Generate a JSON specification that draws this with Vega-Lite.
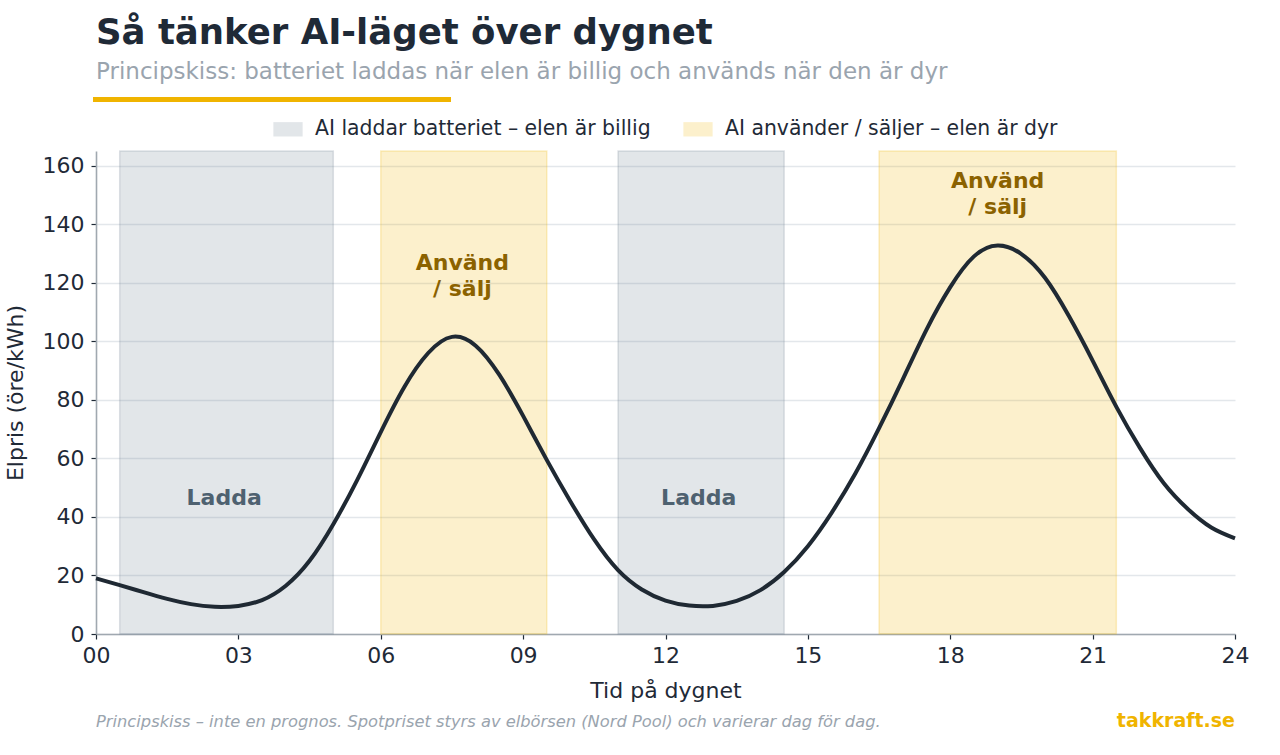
{
  "$schema": "https://vega.github.io/schema/vega-lite/v6.json",
  "width": 1139,
  "height": 483,
  "padding": {"left": 4, "top": 16, "right": 40, "bottom": 10},
  "background": "white",
  "title": {
    "text": "Så tänker AI-läget över dygnet",
    "subtitle": "Principskiss: batteriet laddas när elen är billig och används när den är dyr",
    "anchor": "start",
    "frame": "group",
    "font": "DejaVu Sans",
    "fontSize": 35.5,
    "fontWeight": "bold",
    "color": "#1f2a37",
    "subtitleFont": "DejaVu Sans",
    "subtitleFontSize": 23,
    "subtitleColor": "#9aa4ae",
    "subtitlePadding": 9,
    "offset": 13
  },
  "config": {
    "font": "DejaVu Sans",
    "view": {"stroke": null},
    "axis": {
      "labelFont": "DejaVu Sans",
      "titleFont": "DejaVu Sans",
      "labelFontSize": 22,
      "titleFontSize": 22,
      "labelColor": "#1f2a37",
      "titleColor": "#1f2a37",
      "titleFontWeight": "normal",
      "labelFlush": false,
      "domainColor": "#a0a8b0",
      "domainWidth": 1.6,
      "tickColor": "#1f2a37",
      "tickSize": 5,
      "tickWidth": 1.2,
      "gridColor": "#e3e7eb",
      "gridWidth": 1.6
    },
    "legend": {
      "labelFont": "DejaVu Sans",
      "labelFontSize": 20.4,
      "labelColor": "#1f2a37",
      "labelLimit": 0
    }
  },
  "datasets": {
    "band": [
      {"start": 0.5, "end": 5.0, "typ": "AI laddar batteriet – elen är billig"},
      {"start": 6.0, "end": 9.5, "typ": "AI använder / säljer – elen är dyr"},
      {"start": 11.0, "end": 14.5, "typ": "AI laddar batteriet – elen är billig"},
      {"start": 16.5, "end": 21.5, "typ": "AI använder / säljer – elen är dyr"}
    ],
    "pris": [
      {"tid": 0, "pris": 19.0}, {"tid": 0.5, "pris": 16.7}, {"tid": 1, "pris": 14.3},
      {"tid": 1.5, "pris": 12.0}, {"tid": 2, "pris": 10.2}, {"tid": 2.5, "pris": 9.3},
      {"tid": 3, "pris": 9.6}, {"tid": 3.5, "pris": 11.6}, {"tid": 4, "pris": 16.5},
      {"tid": 4.5, "pris": 25.0}, {"tid": 5, "pris": 37.5}, {"tid": 5.5, "pris": 52.5},
      {"tid": 6, "pris": 69.0}, {"tid": 6.5, "pris": 84.5}, {"tid": 7, "pris": 96.0},
      {"tid": 7.5, "pris": 101.5}, {"tid": 8, "pris": 98.5}, {"tid": 8.5, "pris": 88.5},
      {"tid": 9, "pris": 74.5}, {"tid": 9.5, "pris": 59.4}, {"tid": 10, "pris": 45.2},
      {"tid": 10.5, "pris": 32.2}, {"tid": 11, "pris": 21.8}, {"tid": 11.5, "pris": 15.2},
      {"tid": 12, "pris": 11.4}, {"tid": 12.5, "pris": 9.7}, {"tid": 13, "pris": 9.6},
      {"tid": 13.5, "pris": 11.3}, {"tid": 14, "pris": 15.0}, {"tid": 14.5, "pris": 21.2},
      {"tid": 15, "pris": 30.0}, {"tid": 15.5, "pris": 41.4}, {"tid": 16, "pris": 54.8},
      {"tid": 16.5, "pris": 70.3}, {"tid": 17, "pris": 87.0}, {"tid": 17.5, "pris": 104.0},
      {"tid": 18, "pris": 118.5}, {"tid": 18.5, "pris": 129.0}, {"tid": 19, "pris": 132.7},
      {"tid": 19.5, "pris": 129.8}, {"tid": 20, "pris": 121.6}, {"tid": 20.5, "pris": 108.6},
      {"tid": 21, "pris": 93.4}, {"tid": 21.5, "pris": 77.6}, {"tid": 22, "pris": 63.5},
      {"tid": 22.5, "pris": 51.5}, {"tid": 23, "pris": 42.8}, {"tid": 23.5, "pris": 36.4},
      {"tid": 24, "pris": 32.7}
    ],
    "etikett": [
      {"tid": 2.7, "pris": 46.4, "text": "Ladda", "grupp": "ladda"},
      {"tid": 12.7, "pris": 46.4, "text": "Ladda", "grupp": "ladda"},
      {"tid": 7.72, "pris": 126.6, "text": "Använd", "grupp": "anvand"},
      {"tid": 7.72, "pris": 117.7, "text": "/ sälj", "grupp": "anvand"},
      {"tid": 19.0, "pris": 154.6, "text": "Använd", "grupp": "anvand"},
      {"tid": 19.0, "pris": 146.0, "text": "/ sälj", "grupp": "anvand"}
    ]
  },
  "layer": [
    {
      "data": {"name": "band"},
      "mark": {"type": "rect", "fillOpacity": 0.2, "strokeOpacity": 0.22, "strokeWidth": 1.5},
      "encoding": {
        "x": {
          "field": "start", "type": "quantitative",
          "scale": {"domain": [0, 24], "nice": false, "zero": false},
          "axis": {
            "values": [0, 3, 6, 9, 12, 15, 18, 21, 24],
            "labelExpr": "datum.value < 10 ? '0' + datum.value : '' + datum.value",
            "title": "Tid på dygnet",
            "grid": false,
            "labelPadding": 6,
            "titlePadding": 14
          }
        },
        "x2": {"field": "end"},
        "fill": {
          "field": "typ", "type": "nominal",
          "scale": {
            "domain": ["AI laddar batteriet – elen är billig", "AI använder / säljer – elen är dyr"],
            "range": ["#708090", "#f0b400"]
          },
          "legend": {
            "title": null,
            "orient": "none",
            "direction": "horizontal",
            "legendX": 177,
            "legendY": -37,
            "symbolType": "M-1,-0.49H1V0.49H-1Z",
            "symbolSize": 858,
            "symbolOpacity": 0.2,
            "symbolStrokeWidth": 0,
            "labelOffset": 12,
            "columnPadding": 32
          }
        },
        "stroke": {
          "field": "typ", "type": "nominal",
          "scale": {
            "domain": ["AI laddar batteriet – elen är billig", "AI använder / säljer – elen är dyr"],
            "range": ["#708090", "#f0b400"]
          },
          "legend": null
        }
      }
    },
    {
      "data": {"name": "pris"},
      "mark": {"type": "line", "interpolate": "natural", "color": "#1f2933", "strokeWidth": 4},
      "encoding": {
        "x": {"field": "tid", "type": "quantitative"},
        "y": {
          "field": "pris", "type": "quantitative",
          "scale": {"domain": [0, 165], "nice": false},
          "axis": {
            "values": [0, 20, 40, 60, 80, 100, 120, 140, 160],
            "title": "Elpris (öre/kWh)",
            "labelPadding": 7,
            "titlePadding": 15,
            "domain": true
          }
        }
      }
    },
    {
      "data": {"name": "etikett"},
      "mark": {"type": "text", "fontSize": 22, "fontWeight": "bold", "align": "center", "baseline": "middle"},
      "encoding": {
        "x": {"field": "tid", "type": "quantitative"},
        "y": {"field": "pris", "type": "quantitative"},
        "text": {"field": "text"},
        "color": {
          "condition": {"test": "datum.grupp === 'ladda'", "value": "#4e6170"},
          "value": "#8b6200"
        }
      }
    },
    {
      "data": {"values": [{}]},
      "mark": {"type": "rule", "color": "#f0b400", "strokeWidth": 5, "strokeCap": "butt"},
      "encoding": {
        "x": {"datum": -0.063, "type": "quantitative"},
        "x2": {"datum": 7.48},
        "y": {"datum": 182.6, "type": "quantitative"}
      }
    },
    {
      "data": {"values": [{}]},
      "mark": {"type": "text", "text": "Principskiss – inte en prognos. Spotpriset styrs av elbörsen (Nord Pool) och varierar dag för dag.", "fontSize": 16.3, "fontStyle": "italic", "color": "#9aa4ae", "align": "left", "baseline": "alphabetic"},
      "encoding": {
        "x": {"datum": 0, "type": "quantitative"},
        "y": {"datum": -31.8, "type": "quantitative"}
      }
    },
    {
      "data": {"values": [{}]},
      "mark": {"type": "text", "text": "takkraft.se", "fontSize": 19, "fontWeight": "bold", "color": "#f0b400", "align": "right", "baseline": "alphabetic"},
      "encoding": {
        "x": {"datum": 24, "type": "quantitative"},
        "y": {"datum": -31.8, "type": "quantitative"}
      }
    }
  ]
}
